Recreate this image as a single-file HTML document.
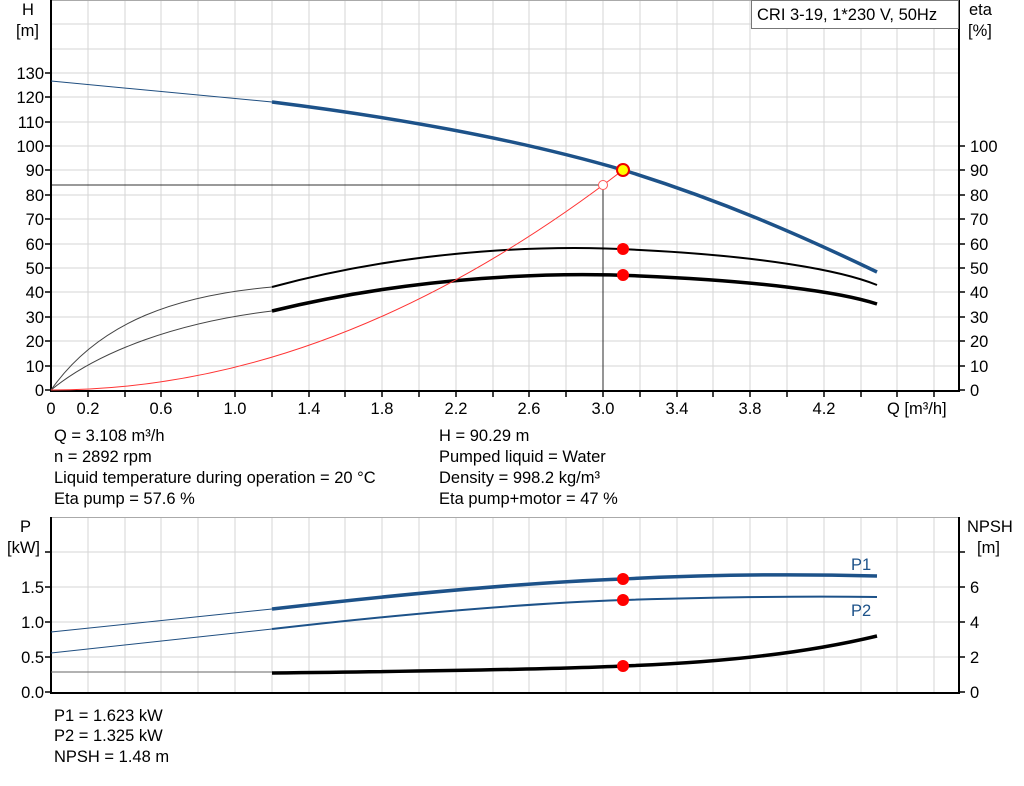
<!DOCTYPE html>
<html><head><meta charset="utf-8"><style>
body{margin:0;background:#fff;}
svg text{font-family:"Liberation Sans",Arial,sans-serif;font-size:16.5px;fill:#000;}
</style></head><body>
<svg width="1024" height="781" viewBox="0 0 1024 781" xmlns="http://www.w3.org/2000/svg">
<g stroke="#d6d6d6" stroke-width="1">
<line x1="88" y1="0" x2="88" y2="390"/><line x1="125" y1="0" x2="125" y2="390"/><line x1="161" y1="0" x2="161" y2="390"/><line x1="198" y1="0" x2="198" y2="390"/><line x1="235" y1="0" x2="235" y2="390"/><line x1="272" y1="0" x2="272" y2="390"/><line x1="309" y1="0" x2="309" y2="390"/><line x1="345" y1="0" x2="345" y2="390"/><line x1="382" y1="0" x2="382" y2="390"/><line x1="419" y1="0" x2="419" y2="390"/><line x1="456" y1="0" x2="456" y2="390"/><line x1="493" y1="0" x2="493" y2="390"/><line x1="529" y1="0" x2="529" y2="390"/><line x1="566" y1="0" x2="566" y2="390"/><line x1="603" y1="0" x2="603" y2="390"/><line x1="640" y1="0" x2="640" y2="390"/><line x1="677" y1="0" x2="677" y2="390"/><line x1="713" y1="0" x2="713" y2="390"/><line x1="750" y1="0" x2="750" y2="390"/><line x1="787" y1="0" x2="787" y2="390"/><line x1="824" y1="0" x2="824" y2="390"/><line x1="861" y1="0" x2="861" y2="390"/><line x1="897" y1="0" x2="897" y2="390"/><line x1="934" y1="0" x2="934" y2="390"/>
<line x1="51" y1="366" x2="959" y2="366"/><line x1="51" y1="341" x2="959" y2="341"/><line x1="51" y1="317" x2="959" y2="317"/><line x1="51" y1="292" x2="959" y2="292"/><line x1="51" y1="268" x2="959" y2="268"/><line x1="51" y1="244" x2="959" y2="244"/><line x1="51" y1="219" x2="959" y2="219"/><line x1="51" y1="195" x2="959" y2="195"/><line x1="51" y1="170" x2="959" y2="170"/><line x1="51" y1="146" x2="959" y2="146"/><line x1="51" y1="122" x2="959" y2="122"/><line x1="51" y1="97" x2="959" y2="97"/><line x1="51" y1="73" x2="959" y2="73"/><line x1="51" y1="49" x2="959" y2="49"/><line x1="51" y1="24" x2="959" y2="24"/>
<line x1="88" y1="517" x2="88" y2="692"/><line x1="125" y1="517" x2="125" y2="692"/><line x1="161" y1="517" x2="161" y2="692"/><line x1="198" y1="517" x2="198" y2="692"/><line x1="235" y1="517" x2="235" y2="692"/><line x1="272" y1="517" x2="272" y2="692"/><line x1="309" y1="517" x2="309" y2="692"/><line x1="345" y1="517" x2="345" y2="692"/><line x1="382" y1="517" x2="382" y2="692"/><line x1="419" y1="517" x2="419" y2="692"/><line x1="456" y1="517" x2="456" y2="692"/><line x1="493" y1="517" x2="493" y2="692"/><line x1="529" y1="517" x2="529" y2="692"/><line x1="566" y1="517" x2="566" y2="692"/><line x1="603" y1="517" x2="603" y2="692"/><line x1="640" y1="517" x2="640" y2="692"/><line x1="677" y1="517" x2="677" y2="692"/><line x1="713" y1="517" x2="713" y2="692"/><line x1="750" y1="517" x2="750" y2="692"/><line x1="787" y1="517" x2="787" y2="692"/><line x1="824" y1="517" x2="824" y2="692"/><line x1="861" y1="517" x2="861" y2="692"/><line x1="897" y1="517" x2="897" y2="692"/><line x1="934" y1="517" x2="934" y2="692"/>
<line x1="51" y1="657" x2="959" y2="657"/><line x1="51" y1="622" x2="959" y2="622"/><line x1="51" y1="587" x2="959" y2="587"/><line x1="51" y1="552" x2="959" y2="552"/>
</g>
<line x1="51" y1="0.5" x2="959" y2="0.5" stroke="#aaa"/>
<line x1="51" y1="517.5" x2="959" y2="517.5" stroke="#aaa"/>
<g stroke="#000" stroke-width="2" fill="none">
<path d="M51 0V391H959V0"/>
<path d="M51 517V693H959V517"/>
</g>
<g stroke="#000" stroke-width="1.5">
<path d="M45 390H51M45 366H51M45 341H51M45 317H51M45 292H51M45 268H51M45 244H51M45 219H51M45 195H51M45 170H51M45 146H51M45 122H51M45 97H51M45 73H51"/>
<path d="M959 390H965M959 366H965M959 341H965M959 317H965M959 292H965M959 268H965M959 244H965M959 219H965M959 195H965M959 170H965M959 146H965"/>
<path d="M88 391V397M125 391V397M161 391V397M198 391V397M235 391V397M272 391V397M309 391V397M345 391V397M382 391V397M419 391V397M456 391V397M493 391V397M529 391V397M566 391V397M603 391V397M640 391V397M677 391V397M713 391V397M750 391V397M787 391V397M824 391V397M861 391V397M897 391V397M934 391V397"/>
<path d="M45 692H51M45 657H51M45 622H51M45 587H51M45 552H51"/>
<path d="M959 692H965M959 657H965M959 622H965M959 587H965M959 552H965"/>
</g>
<rect x="751.5" y="0.5" width="207" height="28" fill="#fff" stroke="#777"/>
<text x="757" y="20">CRI 3-19, 1*230 V, 50Hz</text>
<text x="22" y="15">H</text><text x="16" y="36">[m]</text>
<text x="969" y="15">eta</text><text x="968" y="36">[%]</text>
<g text-anchor="end">
<text x="44" y="396">0</text><text x="44" y="372">10</text><text x="44" y="347">20</text><text x="44" y="323">30</text><text x="44" y="298">40</text><text x="44" y="274">50</text><text x="44" y="250">60</text><text x="44" y="225">70</text><text x="44" y="201">80</text><text x="44" y="176">90</text><text x="44" y="152">100</text><text x="44" y="128">110</text><text x="44" y="103">120</text><text x="44" y="79">130</text>
<text x="44" y="698">0.0</text><text x="44" y="663">0.5</text><text x="44" y="628">1.0</text><text x="44" y="593">1.5</text>
</g>
<g>
<text x="970" y="396">0</text><text x="970" y="372">10</text><text x="970" y="347">20</text><text x="970" y="323">30</text><text x="970" y="298">40</text><text x="970" y="274">50</text><text x="970" y="250">60</text><text x="970" y="225">70</text><text x="970" y="201">80</text><text x="970" y="176">90</text><text x="970" y="152">100</text>
<text x="970" y="698">0</text><text x="970" y="663">2</text><text x="970" y="628">4</text><text x="970" y="593">6</text>
</g>
<text x="967" y="532">NPSH</text><text x="977" y="553">[m]</text>
<text x="20" y="532">P</text><text x="7" y="553">[kW]</text>
<g text-anchor="middle">
<text x="51" y="414">0</text><text x="88" y="414">0.2</text><text x="161" y="414">0.6</text><text x="235" y="414">1.0</text><text x="309" y="414">1.4</text><text x="382" y="414">1.8</text><text x="456" y="414">2.2</text><text x="529" y="414">2.6</text><text x="603" y="414">3.0</text><text x="677" y="414">3.4</text><text x="750" y="414">3.8</text><text x="824" y="414">4.2</text>
</g>
<text x="887" y="414">Q [m³/h]</text>
<path d="M51 81L272 102" stroke="#1f4e80" stroke-width="1" fill="none"/>
<path d="M272 102C400 118 520 140 623 170C720 200 800 235 877 272" stroke="#1d5289" stroke-width="3.5" fill="none"/>
<path d="M51 390C100 320 180 295 272 287" stroke="#444" stroke-width="1" fill="none"/>
<path d="M272 287C420 247 560 245 640 250C760 256 840 270 877 285" stroke="#000" stroke-width="2" fill="none"/>
<path d="M51 390C100 350 180 322 272 311" stroke="#444" stroke-width="1" fill="none"/>
<path d="M272 311C420 275 560 272 640 276C760 281 840 292 877 304" stroke="#000" stroke-width="3.5" fill="none"/>
<path d="M51 390Q337 390 623 170" stroke="#f33" stroke-width="1" fill="none"/>
<path d="M51 185H603V390" stroke="#000" stroke-width="1" fill="none" opacity="0.8"/>
<circle cx="603" cy="185" r="4.5" fill="#fff" stroke="#f55" stroke-width="1"/>
<circle cx="623" cy="170" r="6" fill="#ff0" stroke="#e00" stroke-width="2"/>
<circle cx="623" cy="249" r="6" fill="#f00"/>
<circle cx="623" cy="275" r="6" fill="#f00"/>
<path d="M51 632L272 609" stroke="#1f4e80" stroke-width="1" fill="none"/>
<path d="M272 609C420 592 540 582 623 579C720 574 800 574 877 576" stroke="#1d5289" stroke-width="3.5" fill="none"/>
<path d="M51 653L272 629" stroke="#1f4e80" stroke-width="1" fill="none"/>
<path d="M272 629C420 612 540 603 623 600C720 597 800 596 877 597" stroke="#1d5289" stroke-width="2" fill="none"/>
<path d="M51 672H272" stroke="#666" stroke-width="1" fill="none"/>
<path d="M272 673C450 671 560 669 623 666C730 662 810 652 877 636" stroke="#000" stroke-width="3.5" fill="none"/>
<circle cx="623" cy="579" r="6" fill="#f00"/>
<circle cx="623" cy="600" r="6" fill="#f00"/>
<circle cx="623" cy="666" r="6" fill="#f00"/>
<text x="851" y="570" style="fill:#1d5289">P1</text>
<text x="851" y="616" style="fill:#1d5289">P2</text>
<text x="54" y="441">Q = 3.108 m³/h</text>
<text x="54" y="462">n = 2892 rpm</text>
<text x="54" y="483">Liquid temperature during operation = 20 °C</text>
<text x="54" y="504">Eta pump = 57.6 %</text>
<text x="439" y="441">H = 90.29 m</text>
<text x="439" y="462">Pumped liquid = Water</text>
<text x="439" y="483">Density = 998.2 kg/m³</text>
<text x="439" y="504">Eta pump+motor = 47 %</text>
<text x="54" y="721">P1 = 1.623 kW</text>
<text x="54" y="741">P2 = 1.325 kW</text>
<text x="54" y="762">NPSH = 1.48 m</text>
</svg>
</body></html>
